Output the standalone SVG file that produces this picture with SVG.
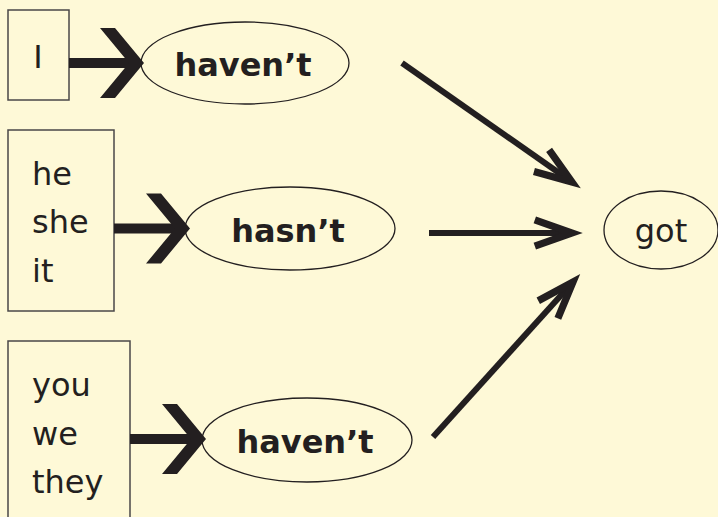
<svg xmlns="http://www.w3.org/2000/svg" width="718" height="517" viewBox="0 0 718 517">
<style>
.box{fill:none;stroke:#4a4748;stroke-width:1.5}
.ell{fill:none;stroke:#231f20;stroke-width:1.3}
.t{font-family:"DejaVu Sans",Verdana,sans-serif;font-size:32px;fill:#231f20}
.b{font-weight:bold}
.conn{stroke:#231f20;stroke-width:6;fill:none;marker-end:url(#ah)}
.thick{fill:#231f20}
</style>
<defs>
<marker id="ah" markerUnits="userSpaceOnUse" markerWidth="60" markerHeight="60" viewBox="-40 -20 50 40" refX="0" refY="0" orient="auto" overflow="visible">
<path d="M-31,-11 L0,0 L-31,11" fill="none" stroke="#231f20" stroke-width="6" stroke-linejoin="miter" stroke-miterlimit="10"/>
</marker>
<polygon id="chev" points="-44,-35 -29,-35 0,0 -29,35 -44,35 -15,0"/>
</defs>
<rect width="718" height="517" fill="#fef9d7"/>
<g id="box-i">
<rect class="box" x="8" y="10" width="61" height="90"/>
<text class="t" x="38" y="68" text-anchor="middle">I</text>
</g>
<g id="box-heshe">
<rect class="box" x="8" y="130" width="106" height="181"/>
<text class="t" x="32" y="185">he</text>
<text class="t" x="32" y="233">she</text>
<text class="t" x="32" y="282">it</text>
</g>
<g id="box-you">
<rect class="box" x="8" y="341" width="122" height="190"/>
<text class="t" x="32" y="396">you</text>
<text class="t" x="32" y="445">we</text>
<text class="t" x="32" y="493">they</text>
</g>
<g id="n-havent1">
<ellipse class="ell" cx="245" cy="63" rx="104" ry="41"/>
<text class="t b" x="243" y="76" text-anchor="middle">haven’t</text>
</g>
<g id="n-hasnt">
<ellipse class="ell" cx="290" cy="228.5" rx="105" ry="41.5"/>
<text class="t b" x="288" y="242" text-anchor="middle">hasn’t</text>
</g>
<g id="n-havent2">
<ellipse class="ell" cx="307" cy="440" rx="105" ry="42"/>
<text class="t b" x="305" y="453" text-anchor="middle">haven’t</text>
</g>
<g id="n-got">
<ellipse class="ell" cx="661" cy="230" rx="57" ry="39"/>
<text class="t" x="661" y="242" text-anchor="middle">got</text>
</g>
<g id="connectors">
<g class="thick">
<rect x="69" y="58" width="65" height="10"/>
<use href="#chev" transform="translate(144,63)"/>
<rect x="114" y="223.5" width="65" height="10"/>
<use href="#chev" transform="translate(190,228.5)"/>
<rect x="130" y="434" width="65" height="10"/>
<use href="#chev" transform="translate(206,439)"/>
</g>
<path class="conn" d="M402,63 L572,182"/>
<path class="conn" d="M429,233 L572,233"/>
<path class="conn" d="M433,437 L573,282"/>
</g>
</svg>
